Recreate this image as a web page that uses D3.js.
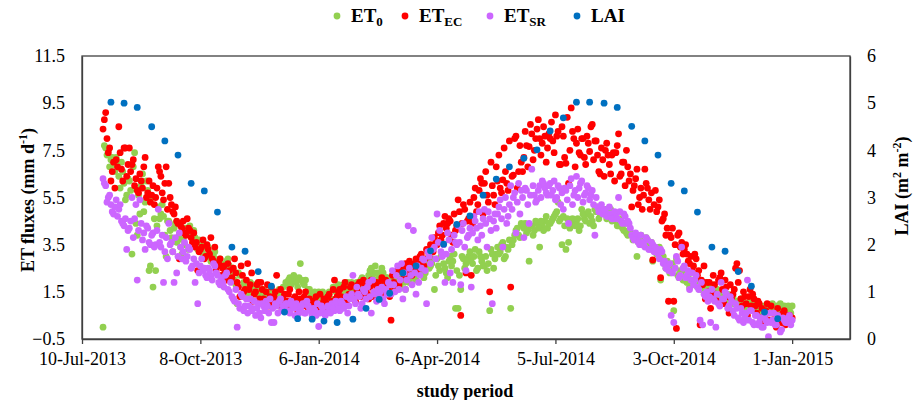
<!DOCTYPE html>
<html><head><meta charset="utf-8">
<script src="https://cdn.jsdelivr.net/npm/d3@7"></script>
<style>
body{margin:0;background:#fff;}
text{font-family:"Liberation Serif","Times New Roman",serif;fill:#000;}
</style></head>
<body><svg id="c" width="914" height="400"></svg>
<script>
// ---- data ----
const startDate = "2013-07-10";
const xTickDays = [0, 90, 180, 270, 360, 450, 540];
const xTickLabels = ["10-Jul-2013","8-Oct-2013","6-Jan-2014","6-Apr-2014","5-Jul-2014","3-Oct-2014","1-Jan-2015"];
const yLeftTicks = [-0.5, 1.5, 3.5, 5.5, 7.5, 9.5, 11.5];
const yRightTicks = [0, 1, 2, 3, 4, 5, 6];
// ET series: daily values split in two arrays: even days (from day 16) and odd days (from day 17), days after start date
const evenFirstDay = 16, oddFirstDay = 17, etStepDays = 2;
const et0 = [
 0.0,7.6,7.5,7.1,6.9, 7.2,6.4,7.0,6.1,5.6, 6.2,3.1,7.4,3.9,4.8, 6.5,5.3,5.8,2.6,1.7,
 2.4,5.1,4.8,4.7,3.0, 4.5,3.8,4.2,3.6,3.9, 3.1,3.5,4.0,4.3,3.8, 3.8,3.3,3.6,3.1,3.4,
 3.4,2.8,3.0,2.7,2.8, 2.7,2.5,2.8,2.6,2.3, 2.0,1.0,2.2,1.4,1.8, 1.4,1.9,1.6,1.7,1.5,
 1.4,1.6,1.3,1.5,1.2, 1.0,1.3,1.6,1.2,1.4, 1.8,2.1,1.9,2.0,1.7, 2.7,1.9,2.0,1.6,1.4,
 1.4,1.2,1.5,1.4,1.1, 1.3,1.5,1.1,1.6,1.65, 1.4,1.7,1.5,1.9,1.6, 1.5,1.8,1.4,2.0,1.7,
 1.9,2.2,2.5,2.3,2.0, 2.2,2.5,1.9,2.1,1.8, 1.9,2.3,2.0,1.7,2.4, 1.6,2.2,2.1,2.4,2.0,
 2.3,2.6,2.1,2.8,2.5, 2.7,1.6,2.9,2.4,3.1, 2.5,2.1,3.0,2.8,0.8, 0.8,1.6,2.9,2.7,3.0,
 2.9,3.0,2.4,3.2,2.8, 2.6,2.4,0.7,3.1,2.9, 3.4,3.2,3.6,3.0,3.3, 0.8,3.7,4.1,3.9,4.4,
 4.2,4.0,2.8,4.3,4.1, 4.4,3.4,4.3,4.5,4.2, 4.4,4.6,4.8,5.3,4.6, 4.7,3.3,3.6,4.5,4.4,
 4.4,4.1,5.0,4.6,4.8, 4.4,4.5,5.0,5.1,4.8, 4.9,5.0,4.7,5.0,4.6, 4.5,4.3,4.4,4.1,4.0,
 4.1,3.9,3.8,3.0,3.7, 3.8,3.6,3.7,3.5,2.8, 3.4,3.2,2.0,3.0,2.5, 2.6,2.4,0.7,2.9,2.1,
 2.2,2.0,1.9,1.7,2.0, 1.9,1.7,1.8,1.6,1.5, 1.7,1.4,1.6,1.2,1.5, 1.3,1.4,1.1,1.3,1.2,
 1.0,1.1,0.9,1.2,1.0, 0.9,1.1,0.8,1.0,0.7, 0.8,0.6,0.9,0.7,0.8, 0.7,0.9,0.8,0.6,0.9,
 0.8,0.7,0.9];
const et0Odd = [
 7.7,7.3,6.8,7.2,6.6, 6.9,5.9,6.6,5.4,6.3, 5.8,6.8,4.4,5.6,6.0, 4.9,6.2,2.4,5.5,4.6,
 4.3,4.6,5.2,3.9,4.5, 4.1,3.2,4.4,3.7,3.4, 3.7,4.2,3.3,3.9,4.1, 3.5,3.7,3.2,3.5,3.0,
 3.1,2.9,3.2,2.6,2.9, 2.6,2.4,2.9,2.2,2.5, 1.8,2.3,1.3,1.9,1.6, 1.7,1.5,1.8,1.4,1.6,
 1.5,1.2,1.4,1.1,1.3, 1.2,1.5,1.3,1.7,1.9, 2.0,1.8,2.2,1.9,2.1, 2.0,1.8,1.5,1.6,1.3,
 1.5,1.3,1.2,1.5,1.3, 1.4,1.2,1.7,1.5,1.8, 1.6,1.8,1.4,1.7,1.9, 1.6,1.9,1.7,2.1,1.8,
 2.0,2.4,2.1,2.6,2.3, 2.0,2.3,2.1,1.7,2.0, 2.1,1.8,2.2,2.5,1.9, 2.3,1.9,2.5,2.2,2.6,
 2.4,2.7,2.3,2.9,2.6, 2.9,2.2,2.6,3.0,2.7, 2.3,2.8,2.6,3.1,2.4, 2.2,3.0,2.5,2.8,3.2,
 2.7,3.3,2.5,3.0,2.6, 3.0,2.7,3.3,2.5,3.1, 3.1,3.5,2.9,3.4,3.7, 3.5,3.9,4.2,3.8,4.3,
 4.4,4.1,4.3,3.9,4.5, 4.2,4.5,4.1,4.7,4.4, 4.5,4.7,4.9,4.5,3.5, 4.3,4.6,4.2,4.6,4.3,
 4.6,4.3,4.8,4.5,4.9, 4.7,4.3,4.9,4.6,5.0, 4.8,4.6,4.9,4.5,4.7, 4.3,4.6,4.2,4.4,3.9,
 4.0,3.7,3.9,3.6,3.9, 3.5,3.8,3.4,3.6,3.3, 3.1,3.4,2.9,2.7,2.8, 2.3,2.7,2.5,2.2,2.4,
 2.0,2.3,2.1,1.8,1.9, 2.1,1.8,1.6,1.9,1.7, 1.5,1.8,1.3,1.6,1.4, 1.5,1.2,1.4,1.0,1.3,
 1.1,0.9,1.2,1.0,0.8, 1.0,0.8,1.1,0.9,0.6, 0.7,0.9,0.6,0.8,1.0, 0.8,0.6,1.0,0.7,0.8,
 0.9,0.6];
const etEC = [
 8.4,9.1,7.4,6.2,7.0, 7.1,8.5,6.7,7.6,6.4, 7.6,6.9,6.0,5.8,6.5, 5.9,7.2,5.7,5.3,6.0,
 5.5,6.8,6.4,5.4,6.8, 6.1,5.2,4.8,4.5,2.9, 4.2,4.0,4.6,4.1,3.6, 3.4,2.4,3.3,3.7,3.0,
 3.3,3.8,2.8,2.4,2.7, 2.2,2.6,2.0,2.4,2.1, 2.9,1.9,1.3,2.2,1.6, 2.7,1.8,1.1,1.5,1.9,
 1.9,1.2,1.5,0.9,1.7, 1.3,2.2,1.0,0.8,1.4, 1.1,1.6,0.9,1.3,0.7, 1.2,0.9,1.5,0.8,1.1,
 0.9,1.3,0.7,1.0,1.2, 0.8,1.4,1.1,2.0,1.3, 1.6,0.9,1.9,1.2,1.7, 1.4,1.1,1.8,1.3,2.0,
 1.6,1.2,2.0,1.5,1.9, 1.7,2.1,1.4,1.8,1.3, 2.2,1.6,2.4,2.0,2.6, 2.7,2.3,2.6,2.5,2.9,
 2.7,3.1,2.6,3.3,3.0, 3.4,3.8,3.5,4.3,3.9, 4.7,4.4,4.5,3.6,4.1, 5.4,0.5,5.2,2.3,4.6,
 2.2,5.5,4.9,5.8,6.1, 6.1,5.6,1.5,6.0,5.2, 6.2,5.9,6.25,6.6,5.8, 1.7,6.45,8.1,6.6,7.0,
 7.2,7.7,7.66,8.2,7.5, 8.4,8.0,7.8,8.1,7.6, 8.0,7.9,9.0,8.3,6.9, 8.1,6.95,6.1,9.3,8.0,
 7.8,7.4,8.0,7.2,8.1, 7.45,8.6,7.9,7.3,6.5, 7.1,7.5,7.3,6.5,7.4, 7.4,8.2,6.5,7.0,7.5,
 6.2,5.1,6.0,6.7,5.5, 5.0,6.7,5.9,5.0,2.85, 5.8,5.1,2.1,4.6,3.9, 1.1,3.8,1.1,-0.05,4.0,
 3.6,3.3,3.1,2.7,2.4, 3.1,2.2,0.1,1.8,1.2, 1.5,0.8,2.2,1.4,2.0, 2.3,1.0,1.7,0.6,1.2,
 1.6,2.7,2.4,0.9,1.3, 0.5,1.6,1.4,0.9,1.1, 0.4,0.2,0.7,0.3,0.9, 0.6,0.0,0.5,0.2,0.7,
 0.3,0.5,0.4];
const etECOdd = [
 8.8,8.0,7.6,6.6,5.9, 6.8,7.4,6.2,7.6,6.9, 6.6,7.1,6.3,5.7,6.2, 6.8,5.5,6.2,5.6,5.2,
 5.9,6.6,5.7,6.1,5.0, 5.5,4.9,5.1,4.4,4.3, 4.5,3.9,4.2,3.8,4.0, 3.6,3.2,3.4,2.9,3.5,
 3.1,2.9,3.4,2.6,2.9, 2.5,2.3,2.7,2.0,2.5, 2.3,1.7,2.6,1.5,2.0, 1.6,2.3,1.4,1.8,1.2,
 1.6,1.0,1.8,1.3,1.1, 1.5,1.1,1.6,1.2,0.9, 1.4,0.8,1.2,1.0,1.5, 1.0,1.3,0.9,1.2,1.0,
 1.1,0.8,1.4,0.9,1.1, 1.3,1.0,1.6,1.2,1.5, 1.3,1.7,1.1,1.4,1.8, 1.2,1.6,1.9,1.5,1.8,
 1.4,1.7,1.3,1.8,1.6, 1.9,1.5,2.0,1.6,0.3, 1.9,2.3,1.8,2.5,2.2, 2.4,2.8,2.2,2.7,2.4,
 3.0,2.5,2.9,3.2,3.5, 3.2,3.6,4.0,3.7,4.4, 4.2,4.6,3.9,4.8,4.3, 4.9,4.4,5.0,4.5,5.3,
 4.4,5.9,5.2,6.3,4.8, 6.6,5.3,7.0,5.6,6.8, 7.3,5.7,7.6,6.1,7.9, 6.4,8.0,5.9,7.7,6.6,
 8.3,6.8,8.6,7.1,8.0, 8.8,7.3,8.5,7.0,8.2, 8.7,7.4,8.1,6.9,8.5, 7.2,8.9,7.5,8.3,6.8,
 8.4,7.3,8.0,6.9,7.8, 8.5,7.1,7.9,6.6,7.6, 6.4,7.8,6.9,7.3,6.2, 7.7,6.4,7.0,6.0,6.8,
 6.5,5.8,6.3,5.2,5.9, 5.6,6.1,5.4,5.7,5.2, 4.9,5.4,4.5,4.8,4.2, 3.9,4.2,3.5,3.9,3.4,
 3.1,3.5,2.8,3.0,2.6, 2.9,2.4,2.0,2.6,1.9, 1.9,1.5,1.8,1.1,2.1, 1.6,2.0,1.3,1.8,1.4,
 2.5,1.9,1.2,1.5,1.0, 1.3,0.9,1.2,0.6,1.0, 0.8,0.5,1.0,0.3,0.6, 0.2,0.8,0.4,0.6,0.1,
 0.5,0.4];
const etSR = [
 6.3,6.0,5.5,5.2,4.8, 5.4,5.0,4.5,4.3,3.3, 4.2,5.5,4.6,2.0,5.4, 3.7,3.3,4.2,3.5,4.0,
 3.5,5.0,3.4,1.9,3.8, 4.4,3.6,1.9,2.3,4.0, 2.9,3.6,3.0,3.3,2.6, 1.9,1.0,2.6,2.4,2.2,
 2.5,2.2,2.7,2.3,1.9, 2.1,1.7,2.3,1.5,1.3, 1.1,0.0,0.8,1.3,0.9, 0.6,1.2,0.8,0.5,1.0,
 0.4,0.9,1.1,0.6,0.2, 0.2,0.9,1.1,0.7,0.8, 1.0,0.6,0.9,0.5,0.8, 0.7,1.0,0.6,0.9,0.7,
 0.8,0.5,0.03,0.9,0.6, 0.6,0.8,1.0,0.7,0.9, 0.7,1.0,0.9,0.6,1.2, 2.2,1.0,1.4,0.8,1.6,
 1.2,1.9,0.6,1.5,1.1, 1.3,1.7,1.0,1.4,1.8, 2.4,1.5,2.6,2.0,1.2, 1.6,4.3,2.2,4.1,1.4,
 1.9,2.5,2.85,1.0,3.0, 3.8,3.4,4.8,4.1,3.0, 1.9,4.0,2.3,1.9,3.6, 4.3,1.8,4.4,2.4,3.9,
 1.7,4.7,4.2,4.9,3.9, 5.0,3.4,4.6,1.0,4.8, 4.8,5.4,3.4,5.5,4.7, 6.0,5.5,4.0,6.1,5.8,
 3.8,5.8,4.4,6.7,5.6, 5.4,6.0,6.2,5.9,5.6, 6.1,5.8,5.4,6.0,5.2, 5.0,5.8,4.4,6.3,5.6,
 6.4,5.9,6.2,5.6,6.0, 5.4,5.8,3.9,5.1,5.0, 4.8,4.9,4.7,4.8,4.6, 4.7,5.5,4.5,4.8,4.4,
 4.4,3.9,3.7,3.8,3.5, 3.6,3.4,3.7,3.3,3.5, 3.4,3.1,3.3,2.7,2.5, 2.4,0.5,0.2,3.0,2.1,
 3.4,2.6,2.2,1.6,2.3, 2.0,1.7,0.3,0.1,1.3, 1.1,0.2,1.2,0.0,1.0, 1.9,1.2,1.4,0.9,1.1,
 0.5,0.8,0.3,0.6,0.4, 2.0,0.7,0.2,0.5,0.1, 0.4,0.0,0.3,-0.4,0.2, 0.6,0.1,0.4,-0.1,0.3,
 0.2,0.5,0.3];
const etSROdd = [
 6.1,5.3,5.6,4.9,5.1, 4.7,5.2,4.4,4.6,4.1, 4.5,3.8,5.2,4.1,4.4, 4.0,4.3,3.6,3.9,3.4,
 4.1,3.6,3.9,3.2,2.9, 3.5,3.2,3.8,3.0,3.4, 3.2,2.8,3.4,2.5,2.9, 2.7,2.3,2.9,2.5,2.1,
 2.4,2.0,2.6,2.2,1.8, 1.9,2.2,1.6,1.9,1.2, 1.6,1.0,1.4,0.7,1.2, 0.9,0.7,1.1,0.8,0.6,
 1.0,0.7,0.9,1.2,0.8, 1.0,0.6,1.2,0.9,1.0, 0.7,1.1,0.8,1.0,0.6, 0.9,0.6,1.1,0.8,0.5,
 0.7,1.0,0.6,0.8,0.5, 0.9,0.6,0.8,1.1,0.8, 1.1,0.8,1.3,0.9,1.4, 1.2,1.7,1.3,1.0,1.5,
 1.7,1.3,2.0,1.4,1.6, 1.5,1.2,1.6,1.9,1.4, 1.8,2.2,1.6,2.7,2.3, 2.0,2.5,1.8,2.3,2.6,
 2.2,2.9,2.4,3.2,2.7, 3.3,2.9,3.6,3.2,3.5, 3.1,3.7,3.3,3.9,3.5, 3.6,4.1,3.4,3.8,4.2,
 4.0,4.5,3.7,4.3,4.6, 4.4,4.9,4.1,4.5,4.2, 5.1,4.6,5.0,4.4,5.2, 5.0,5.7,5.3,4.8,5.5,
 5.9,5.2,5.6,6.0,5.3, 5.8,5.5,6.1,5.7,6.0, 5.6,6.2,5.5,5.9,5.7, 5.9,5.4,6.0,5.2,5.8,
 5.5,6.1,5.3,5.7,5.9, 5.6,5.2,5.5,4.9,5.2, 5.0,4.7,5.1,4.6,4.9, 4.6,4.9,4.4,4.7,4.5,
 4.2,3.8,4.0,3.6,3.9, 3.5,3.8,3.3,3.6,3.2, 3.3,2.9,3.2,2.8,2.6, 2.7,2.3,2.5,2.8,2.2,
 2.5,2.1,2.4,2.0,1.8, 2.2,1.6,1.9,1.4,1.5, 1.3,1.6,1.1,1.4,0.9, 1.2,1.5,0.8,1.3,0.7,
 1.0,0.4,0.8,0.2,0.6, 0.3,0.7,0.1,0.5,0.2, 0.0,0.5,0.2,0.6,0.3, 0.1,0.5,-0.2,0.4,0.2,
 0.4,0.1];
// LAI: days after start date and values (m2 m-2)
const laiDays = [22,32,42,53,63,73,83,93,103,114,124,134,144,154,164,175,184,194,206,216,
 226,234,244,254,265,275,285,295,305,315,325,336,346,356,366,376,386,397,407,418,
 428,438,448,458,468,479,489,499,509,519,529];
const laiValues = [5.02,5.00,4.91,4.50,4.20,3.90,3.30,3.14,2.69,1.95,1.86,1.43,1.12,0.57,0.43,0.42,0.38,0.35,0.42,0.65,
 0.84,0.97,1.40,1.55,1.87,2.01,2.43,2.61,3.05,3.39,3.65,3.83,4.01,4.41,4.69,5.02,5.02,5.00,4.91,4.51,
 4.20,3.90,3.30,3.14,2.69,1.95,1.86,1.43,1.12,0.57,0.43];
const axisEndDay = 584;
const seriesNames = ["ET0","ETEC","ETSR","LAI"];
const seriesColors = ["#92D050","#FF0000","#CC66FF","#0070C0"];

// ---- chart ----
const svg = d3.select("#c");
const M = {l:82, r:850, t:56, b:339};
const t0 = d3.utcParse("%Y-%m-%d")(startDate);
const dayDate = d => d3.utcDay.offset(t0, d);
const x = d3.scaleUtc().domain([t0, dayDate(axisEndDay)]).range([M.l, M.r]);
const yL = d3.scaleLinear().domain([-0.5, 11.5]).range([M.b, M.t]);
const yR = d3.scaleLinear().domain([0, 6]).range([M.b, M.t]);

const plotG = svg.append("g");
function drawET(vals, firstDay, color){
  plotG.append("g").selectAll("circle").data(vals).join("circle")
    .attr("cx", (v,i) => x(dayDate(firstDay + i*etStepDays)))
    .attr("cy", v => yL(v)).attr("r", 3.4).attr("fill", color);
}
drawET(et0, evenFirstDay, seriesColors[0]);
drawET(et0Odd, oddFirstDay, seriesColors[0]);
drawET(etEC, evenFirstDay, seriesColors[1]);
drawET(etECOdd, oddFirstDay, seriesColors[1]);
drawET(etSR, evenFirstDay, seriesColors[2]);
drawET(etSROdd, oddFirstDay, seriesColors[2]);
plotG.append("g").selectAll("circle").data(laiValues).join("circle")
  .attr("cx", (v,i) => x(dayDate(laiDays[i]))).attr("cy", v => yR(v))
  .attr("r", 3.4).attr("fill", seriesColors[3]);

// frame
svg.append("rect").attr("x", M.l).attr("y", M.t).attr("width", M.r-M.l).attr("height", M.b-M.t)
  .attr("fill","none").attr("stroke","#404040").attr("stroke-width",1.3);

// axes
const xAxis = d3.axisBottom(x).tickValues(xTickDays.map(dayDate))
  .tickFormat((d,i) => xTickLabels[i]).tickSizeInner(5).tickSizeOuter(0).tickPadding(8);
const gx = svg.append("g").attr("transform", `translate(0,${M.b})`).call(xAxis);
const gl = svg.append("g").attr("transform", `translate(${M.l},0)`)
  .call(d3.axisLeft(yL).tickValues(yLeftTicks).tickFormat(d3.format(".1f")).tickSize(0).tickPadding(17));
const gr = svg.append("g").attr("transform", `translate(${M.r},0)`)
  .call(d3.axisRight(yR).tickValues(yRightTicks).tickFormat(d3.format("d")).tickSize(0).tickPadding(17));
[gx, gl, gr].forEach(g => {
  g.select(".domain").attr("stroke","#404040").attr("stroke-width",1.3);
  g.selectAll(".tick line").attr("stroke","#404040").attr("stroke-width",1.3);
  g.selectAll(".tick text").attr("font-size", 18).attr("font-family","Liberation Serif").attr("fill","#000");
});

// axis titles
svg.append("text").attr("x", 465).attr("y", 397).attr("text-anchor","middle")
  .attr("font-size",18).attr("font-weight","bold").text("study period");
const lt = svg.append("text").attr("transform","translate(34,200) rotate(-90)")
  .attr("text-anchor","middle").attr("font-size",18).attr("font-weight","bold");
lt.append("tspan").text("ET fluxes (mm d");
lt.append("tspan").attr("dy",-7).attr("font-size",12).text("-1");
lt.append("tspan").attr("dy",7).text(")");
const rt = svg.append("text").attr("transform","translate(908,186) rotate(-90)")
  .attr("text-anchor","middle").attr("font-size",18).attr("font-weight","bold");
rt.append("tspan").text("LAI (m");
rt.append("tspan").attr("dy",-7).attr("font-size",12).text("2");
rt.append("tspan").attr("dy",7).text(" m");
rt.append("tspan").attr("dy",-7).attr("font-size",12).text("-2");
rt.append("tspan").attr("dy",7).text(")");

// legend
const legendX = [337, 405, 490, 577];
const legendSubs = ["0","EC","SR",""];
seriesNames.forEach((n,i) => {
  svg.append("circle").attr("cx", legendX[i]).attr("cy", 16).attr("r", 3.4).attr("fill", seriesColors[i]);
  const t = svg.append("text").attr("x", legendX[i]+14).attr("y", 22)
    .attr("font-size", 19).attr("font-weight","bold");
  if (legendSubs[i]) {
    t.append("tspan").text("ET");
    t.append("tspan").attr("dy",4).attr("font-size",13).text(legendSubs[i]);
  } else t.text(n);
});
</script></body></html>
